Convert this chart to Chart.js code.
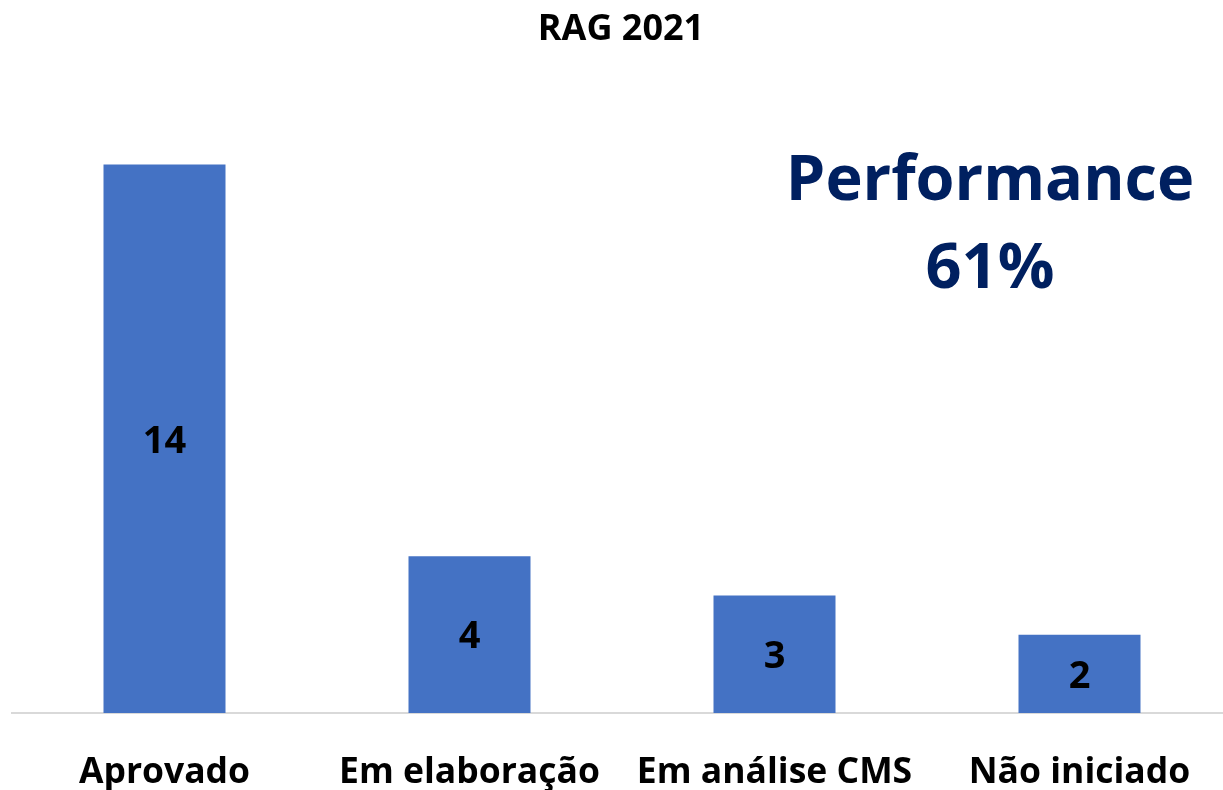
<!DOCTYPE html>
<html>
<head>
<meta charset="utf-8">
<script src="https://cdn.jsdelivr.net/npm/chart.js@4"></script>
<style>
  html, body { margin: 0; padding: 0; background: #fff; overflow: hidden; }
  #wrap { width: 1232px; height: 790px; }
</style>
</head>
<body>
<div id="wrap"><canvas id="ragChart"></canvas></div>
<script>
// chart values
const categories = ['Aprovado', 'Em elaboração', 'Em análise CMS', 'Não iniciado'];
const counts = [14, 4, 3, 2];
const chartTitle = 'RAG 2021';
const noteLines = ['Performance', '61%'];

const FONT = '"Open Sans", Lato, sans-serif';

//title and performance note, drawn as text on the canvas
const textPlugin = {
  id: 'textPlugin',
  afterDraw(chart) {
    const ctx = chart.ctx;
    ctx.save();
    ctx.fillStyle = '#000';
    ctx.textAlign = 'center';
    ctx.textBaseline = 'alphabetic';
    ctx.font = 'bold 36px ' + FONT;
    ctx.fillText(chartTitle, 621, 40);
    ctx.fillStyle = '#002060';
    ctx.font = 'bold 63px ' + FONT;
    ctx.fillText(noteLines[0], 990, 200);
    ctx.fillText(noteLines[1], 990, 288);
    ctx.restore();
  }
};

//value labels in the middle of each bar
const barLabels = {
  id: 'barLabels',
  afterDatasetsDraw(chart) {
    const ctx = chart.ctx;
    const meta = chart.getDatasetMeta(0);
    ctx.save();
    ctx.fillStyle = '#000';
    ctx.font = 'bold 38px ' + FONT;
    ctx.textAlign = 'center';
    ctx.textBaseline = 'middle';
    meta.data.forEach((bar, i) => {
      const mid = (bar.y + bar.base) / 2;
      ctx.fillText(counts[i], bar.x, mid + 3);
    });
    ctx.restore();
  }
};

new Chart(document.getElementById('ragChart'), {
  type: 'bar',
  data: {
    labels: categories,
    datasets: [{
      data: counts,
      backgroundColor: '#4472C4',
      borderWidth: 0,
      barPercentage: 0.4,
      categoryPercentage: 1.0
    }]
  },
  options: {
    responsive: true,
    maintainAspectRatio: false,
    animation: false,
    layout: { padding: { top: 86, left: 12, right: 0, bottom: 0 } },
    plugins: {
      legend: { display: false },
      title: { display: false },
      tooltip: { enabled: false }
    },
    scales: {
      x: {
        grid: { display: false, drawTicks: false },
        border: { display: true, color: '#d9d9d9', width: 2 },
        ticks: { color: '#000', font: { family: FONT, size: 35.5, weight: 'bold' }, padding: 39, maxRotation: 0, autoSkip: false },
        afterFit(scale) { scale.height = 77; }
      },
      y: {
        display: false,
        min: 0,
        max: 16
      }
    }
  },
  plugins: [textPlugin, barLabels]
});
</script>
</body>
</html>
